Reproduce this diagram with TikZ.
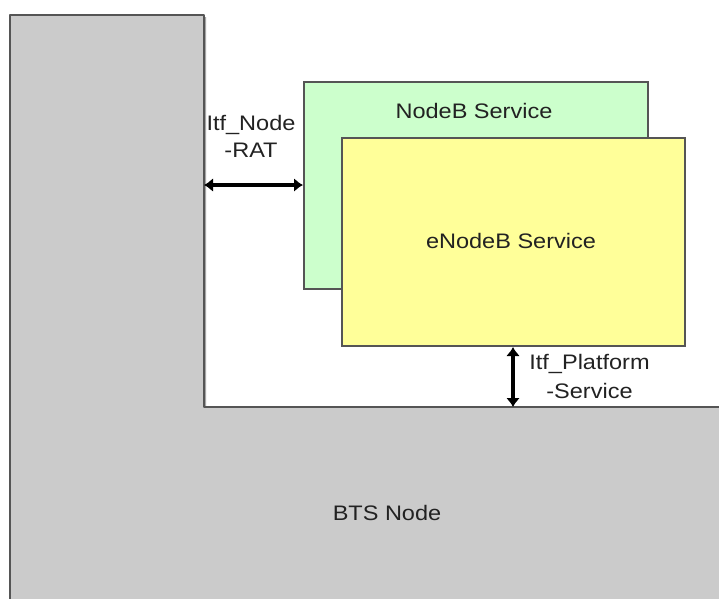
\documentclass[tikz,border=0pt]{standalone}
\usepackage{fontspec}
\setmainfont{Liberation Sans}[FakeStretch=1.12]
\usetikzlibrary{arrows.meta}
\definecolor{btsgray}{HTML}{CBCBCB}
\definecolor{edgegray}{HTML}{555555}
\definecolor{nbgreen}{HTML}{CCFFCC}
\definecolor{enbyellow}{HTML}{FFFF99}
\definecolor{txt}{HTML}{222222}
\tikzset{
  boxstyle/.style={draw=edgegray, line width=2pt, inner sep=0pt, anchor=north west},
  lbl/.style={text=txt, font=\fontsize{21pt}{28pt}\selectfont, inner sep=0pt},
  itf/.style={line width=4.5pt, black, {Latex[length=9pt,width=14pt]}-{Latex[length=9pt,width=14pt]}},
  shadowstyle/.style={fill=black!35, draw=none}
}
\begin{document}
\begin{tikzpicture}[x=1pt,y=-1pt]
\useasboundingbox (0,0) rectangle (719,598);
\clip (0,0) rectangle (719,598);
\fill[white] (0,0) rectangle (719,598);
% BTS node L-shape
\fill[shadowstyle] (12,17) -- (206,17) -- (206,409) -- (730,409) -- (730,610) -- (12,610) -- cycle;
\filldraw[fill=btsgray, draw=edgegray, line width=2.5pt, line join=round]
  (10,15) -- (204,15) -- (204,407) -- (730,407) -- (730,610) -- (10,610) -- cycle;
\coordinate (btsin) at (204,185);
\coordinate (btsfloor) at (513,407);
\node[lbl, anchor=base] (btslbl) at (387,520) {BTS Node};
% NodeB Service
\fill[shadowstyle] (305,83) rectangle (649,290);
\node[boxstyle, fill=nbgreen, minimum width=344pt, minimum height=207pt] (nodeb) at (303,81) {};
\node[lbl, anchor=base] (nodeblbl) at (474,118) {NodeB Service};
% eNodeB Service
\fill[shadowstyle] (343,139) rectangle (686,347);
\node[boxstyle, fill=enbyellow, minimum width=343pt, minimum height=208pt] (enodeb) at (341,137) {};
\node[lbl, anchor=base] (enodeblbl) at (511,248) {eNodeB Service};
% interfaces
\draw[itf] (btsin) -- (btsin -| nodeb.west);
\draw[itf] (enodeb.south -| btsfloor) -- (btsfloor);
\node[lbl, align=center, font=\fontsize{21pt}{27pt}\selectfont] (itfrat) at (251,136) {Itf\_Node\\-RAT};
\node[lbl, align=center, font=\fontsize{21pt}{29pt}\selectfont] (itfplat) at (589.5,376) {Itf\_Platform\\-Service};
\end{tikzpicture}
\end{document}
